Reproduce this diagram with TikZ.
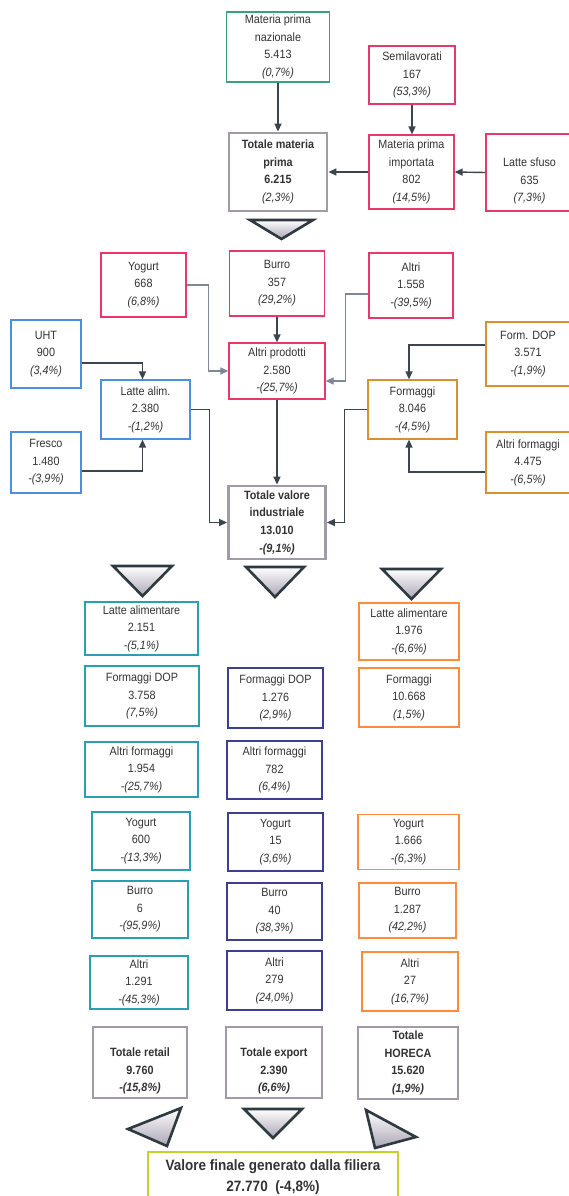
\documentclass[tikz,border=0pt]{standalone}
\usepackage{fontspec}
\setmainfont{Liberation Sans}[FakeStretch=0.9]
\usetikzlibrary{arrows.meta,calc}
\definecolor{txt}{HTML}{333333}
\definecolor{cgreen}{HTML}{3AA080}
\definecolor{cred}{HTML}{E8386A}
\definecolor{cblue}{HTML}{4A90E0}
\definecolor{corg}{HTML}{D89030}
\definecolor{corgb}{HTML}{FF8C3C}
\definecolor{cteal}{HTML}{2B9EB3}
\definecolor{cnavy}{HTML}{3C3F8F}
\definecolor{ctot}{HTML}{A19BA8}
\definecolor{cyel}{HTML}{C8D02C}
\definecolor{cline}{HTML}{3A4550}
\definecolor{clineb}{HTML}{7D8796}
\definecolor{triedge}{HTML}{2F3A40}
\definecolor{trifill}{HTML}{ABA6B6}
\begin{document}
\begin{tikzpicture}[x=1pt,y=-1pt,
  box/.style={draw, line width=1.2pt, fill=white, rectangle, inner sep=0pt, align=center, text=txt, font=\fontsize{12}{17.6}\selectfont},
  redbox/.style={box, draw=cred},
  greenbox/.style={box, draw=cgreen},
  bluebox/.style={box, draw=cblue},
  orgbox/.style={box, draw=corg},
  horbox/.style={box, draw=corgb},
  tealbox/.style={box, draw=cteal},
  navybox/.style={box, draw=cnavy},
  totbox/.style={box, draw=ctot, line width=2.8pt, font=\fontsize{12}{17.6}\selectfont\bfseries},
  finbox/.style={box, draw=cyel, line width=2.6pt, font=\fontsize{15}{21}\selectfont\bfseries},
  conn/.style={draw=cline, line width=1.4pt, -{Triangle[length=8pt,width=7pt]}},
  connb/.style={draw=clineb, line width=1.4pt, -{Triangle[length=8pt,width=7pt]}},
  tri/.style={draw=triedge, line width=2.6pt, line join=miter, top color=white, bottom color=trifill},
]
\useasboundingbox (0,0) rectangle (569,1196);
\fill[white] (0,0) rectangle (569,1196);

% top section
\node[greenbox, minimum width=103pt, minimum height=70pt] (mpn) at (278,47) {Materia prima\\nazionale\\5.413\\\textit{(0,7\%)}};
\node[redbox, minimum width=86pt, minimum height=58pt] (semi) at (412,75) {Semilavorati\\167\\\textit{(53,3\%)}};
\node[totbox, minimum width=98pt, minimum height=78pt] (tmp) at (278,172) {Totale materia\\prima\\6.215\\\textmd{\textit{(2,3\%)}}};
\node[redbox, minimum width=85pt, minimum height=74pt] (mpi) at (411.5,172) {Materia prima\\importata\\802\\\textit{(14,5\%)}};
\node[redbox, minimum width=87pt, minimum height=77pt] (ls) at (529.5,172.5) {\vphantom{Tg}\\Latte sfuso\\635\\\textit{(7,3\%)}};

\draw[conn] (mpn.south) -- (mpn.south |- tmp.north);
\draw[conn] (semi.south) -- (semi.south |- mpi.north);
\draw[conn] (mpi.west) -- (tmp.east);
\draw[conn] (ls.west) -- (mpi.east);

\draw[tri] (250,220) -- (313,220) -- (281.5,239) -- cycle;

% middle section
\node[redbox, minimum width=85pt, minimum height=64pt] (yog) at (143.5,285) {Yogurt\\668\\\textit{(6,8\%)}};
\node[redbox, minimum width=95pt, minimum height=65pt] (burro) at (277,283.5) {Burro\\357\\\textit{(29,2\%)}};
\node[redbox, minimum width=84pt, minimum height=65pt] (altri) at (411,285.5) {Altri\\1.558\\\textit{-(39,5\%)}};
\node[bluebox, minimum width=70pt, minimum height=68pt] (uht) at (46,354) {UHT\\900\\\textit{(3,4\%)}};
\node[redbox, minimum width=96pt, minimum height=56pt] (ap) at (277,371) {Altri prodotti\\2.580\\\textit{-(25,7\%)}};
\node[bluebox, minimum width=89pt, minimum height=59pt] (la) at (145.5,409.5) {Latte alim.\\2.380\\\textit{-(1,2\%)}};
\node[orgbox, minimum width=84pt, minimum height=64pt] (fdop) at (528,354) {Form. DOP\\3.571\\\textit{-(1,9\%)}};
\node[orgbox, minimum width=89pt, minimum height=59pt] (form) at (412.5,409.5) {Formaggi\\8.046\\\textit{-(4,5\%)}};
\node[bluebox, minimum width=70pt, minimum height=61pt] (fresco) at (46,462.5) {Fresco\\1.480\\\textit{-(3,9\%)}};
\node[orgbox, minimum width=84pt, minimum height=61pt] (altf) at (528,462.5) {Altri formaggi\\4.475\\\textit{-(6,5\%)}};
\node[totbox, minimum width=97pt, minimum height=73pt] (tvi) at (277,522.5) {Totale valore\\industriale\\13.010\\\textit{-(9,1\%)}};

\draw[conn] ($(uht.east)+(0,9)$) -| ($(la.north)+(-3,0)$);
\draw[conn] ($(fresco.east)+(0,8.5)$) -| ($(la.south)+(-3,0)$);
\draw[connb] (yog.east) -- ++(22,0) |- (ap.west);
\draw[conn] (la.east) -- ++(19,0) |- (tvi.west);
\draw[conn] (burro.south) -- (burro.south |- ap.north);
\draw[conn] (ap.south) -- (ap.south |- tvi.north);
\draw[connb] ($(altri.west)+(0,8.5)$) -- ++(-23,0) |- ($(ap.east)+(0,10)$);
\draw[conn] ($(fdop.west)+(0,-9)$) -| ($(form.north)+(-3.5,0)$);
\draw[conn] ($(altf.west)+(0,9.5)$) -| ($(form.south)+(-3.5,0)$);
\draw[conn] (form.west) -- ++(-23,0) |- (tvi.east);

\draw[tri] (113,566) -- (172,566) -- (142.5,596) -- cycle;
\draw[tri] (246,567) -- (304,567) -- (275,597) -- cycle;
\draw[tri] (382,569) -- (441,569) -- (411.5,599) -- cycle;

% retail column
\node[tealbox, minimum width=113pt, minimum height=53pt] (rla) at (141.5,628.5) {Latte alimentare\\2.151\\\textit{-(5,1\%)}};
\node[tealbox, minimum width=114pt, minimum height=60pt] (rfd) at (142,696) {Formaggi DOP\\3.758\\\textit{(7,5\%)}};
\node[tealbox, minimum width=113pt, minimum height=55pt] (raf) at (141.5,769.5) {Altri formaggi\\1.954\\\textit{-(25,7\%)}};
\node[tealbox, minimum width=98pt, minimum height=58pt] (ryo) at (141,841) {Yogurt\\600\\\textit{-(13,3\%)}};
\node[tealbox, minimum width=96pt, minimum height=57pt] (rbu) at (140,909.5) {Burro\\6\\\textit{-(95,9\%)}};
\node[tealbox, minimum width=98pt, minimum height=53pt] (ral) at (139,982.5) {Altri\\1.291\\\textit{-(45,3\%)}};
\node[totbox, minimum width=94pt, minimum height=71pt] (rtot) at (140,1062.5) {\vphantom{Tg}\\Totale retail\\9.760\\\textit{-(15,8\%)}};

% export column
\node[navybox, minimum width=95pt, minimum height=60pt] (efd) at (275.5,698) {Formaggi DOP\\1.276\\\textit{(2,9\%)}};
\node[navybox, minimum width=95pt, minimum height=58pt] (eaf) at (274.5,770) {Altri formaggi\\782\\\textit{(6,4\%)}};
\node[navybox, minimum width=95pt, minimum height=58pt] (eyo) at (275.5,842) {Yogurt\\15\\\textit{(3,6\%)}};
\node[navybox, minimum width=95pt, minimum height=57pt] (ebu) at (274.5,911.5) {Burro\\40\\\textit{(38,3\%)}};
\node[navybox, minimum width=95pt, minimum height=59pt] (eal) at (274.5,980.5) {Altri\\279\\\textit{(24,0\%)}};
\node[totbox, minimum width=96pt, minimum height=71pt] (etot) at (274,1062.5) {\vphantom{Tg}\\Totale export\\2.390\\\textit{(6,6\%)}};

% horeca column
\node[horbox, minimum width=100pt, minimum height=57pt] (hla) at (409,631.5) {Latte alimentare\\1.976\\\textit{-(6,6\%)}};
\node[horbox, minimum width=100pt, minimum height=59pt] (hfo) at (409,697.5) {Formaggi\\10.668\\\textit{(1,5\%)}};
\node[horbox, minimum width=101pt, minimum height=55pt] (hyo) at (408.5,842) {Yogurt\\1.666\\\textit{-(6,3\%)}};
\node[horbox, minimum width=97pt, minimum height=55pt] (hbu) at (407.5,910.5) {Burro\\1.287\\\textit{(42,2\%)}};
\node[horbox, minimum width=96pt, minimum height=59pt] (hal) at (410,981.5) {Altri\\27\\\textit{(16,7\%)}};
\node[totbox, minimum width=100pt, minimum height=72pt] (htot) at (408,1063) {Totale\\HORECA\\15.620\\\textit{(1,9\%)}};

% bottom triangles
\draw[tri] (128,1129) -- (181,1108) -- (167,1146) -- cycle;
\draw[tri] (244,1109) -- (302,1109) -- (273,1138) -- cycle;
\draw[tri] (366,1110) -- (416,1137) -- (375,1148) -- cycle;

\node[finbox, minimum width=250pt, minimum height=50pt] (fin) at (273,1177) {Valore finale generato dalla filiera\\27.770~~(-4,8\%)};
\end{tikzpicture}
\end{document}
